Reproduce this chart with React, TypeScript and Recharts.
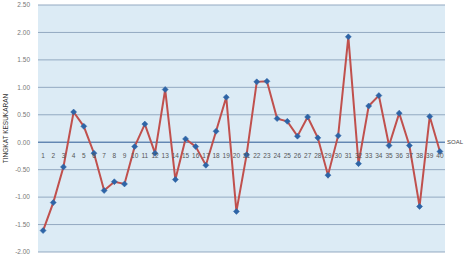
import React from 'react';
import { LineChart, Line, XAxis, YAxis, CartesianGrid, ReferenceLine } from 'recharts';

const categories: string[] = Array.from({ length: 40 }, (_, i) => String(i + 1));
const values: number[] = [
  -1.61, -1.10, -0.45, 0.55, 0.29, -0.20, -0.88, -0.72, -0.76, -0.08,
  0.33, -0.20, 0.96, -0.68, 0.06, -0.08, -0.42, 0.20, 0.82, -1.26,
  -0.23, 1.10, 1.11, 0.43, 0.38, 0.11, 0.46, 0.08, -0.60, 0.12,
  1.92, -0.39, 0.66, 0.85, -0.06, 0.53, -0.06, -1.17, 0.47, -0.17,
];
const yTicks: number[] = [-2, -1.5, -1, -0.5, 0, 0.5, 1, 1.5, 2, 2.5];
const yTitle = 'TINGKAT KESUKARAN';
const xTitle = 'SOAL';

const data = categories.map((c, i) => ({ n: c, v: values[i] }));

const W = 465;
const H = 260;
const M = { top: 5, right: 20, bottom: 8, left: 0 };
const YW = 38;
const Y_MIN = -2;
const Y_MAX = 2.5;
const plotH = H - M.top - M.bottom;
const plotW = W - YW - M.right - M.left;
const halfBand = plotW / categories.length / 2;
const zeroFromBottom = plotH * (0 - Y_MIN) / (Y_MAX - Y_MIN);

const FONT = 'Liberation Sans, Arial, sans-serif';

const XTick = (props: any) => {
  const { x, y, payload } = props;
  const yy = y - zeroFromBottom + 8;
  return (
    <text x={x} y={yy} textAnchor="middle" fontSize={6.5} fill="#555" fontFamily={FONT}>
      {payload.value}
    </text>
  );
};

const YTitle = (props: any) => {
  const vb = props.viewBox || {};
  const cx = 6;
  const cy = (vb.y ?? 0) + (vb.height ?? 0) / 2;
  return (
    <text
      x={cx}
      y={cy}
      transform={`rotate(-90, ${cx}, ${cy})`}
      textAnchor="middle"
      dominantBaseline="central"
      fontSize={6.5}
      fill="#333"
      fontFamily={FONT}
    >
      {yTitle}
    </text>
  );
};

const Diamond = (props: any) => {
  const { cx, cy, index } = props;
  if (cx == null || cy == null) return null;
  const r = 3;
  return (
    <polygon
      key={index}
      points={`${cx},${cy - r} ${cx + r},${cy} ${cx},${cy + r} ${cx - r},${cy}`}
      fill="#2e64a6"
      stroke="#2e64a6"
      strokeWidth={0.5}
    />
  );
};

export default function App() {
  return (
    <div style={{ position: 'absolute', left: 0, top: 0, width: W, height: H, background: '#fff', overflow: 'hidden' }}>
      <LineChart width={W} height={H} data={data} margin={M}>
        <CartesianGrid horizontal vertical={false} stroke="#93a9c1" strokeWidth={1} fill="#dcebf5" fillOpacity={1} />
        <XAxis
          dataKey="n"
          axisLine={false}
          tickLine={false}
          interval={0}
          tick={<XTick />}
          height={0.0001}
          padding={{ left: halfBand, right: halfBand }}
        />
        <YAxis
          width={YW}
          domain={[Y_MIN, Y_MAX]}
          ticks={yTicks}
          axisLine={false}
          tickLine={false}
          tick={{ fontSize: 6.5, fill: '#777', fontFamily: FONT }}
          tickFormatter={(v: number) => v.toFixed(2)}
          label={<YTitle />}
        />
        <ReferenceLine
          y={0}
          stroke="#4a73a8"
          strokeWidth={1}
          label={{ value: xTitle, position: 'right', fontSize: 6, fill: '#444', fontFamily: FONT, offset: 2 }}
        />
        <Line
          type="linear"
          dataKey="v"
          stroke="#c0504d"
          strokeWidth={2}
          dot={<Diamond />}
          activeDot={false}
          isAnimationActive={false}
        />
      </LineChart>
    </div>
  );
}
